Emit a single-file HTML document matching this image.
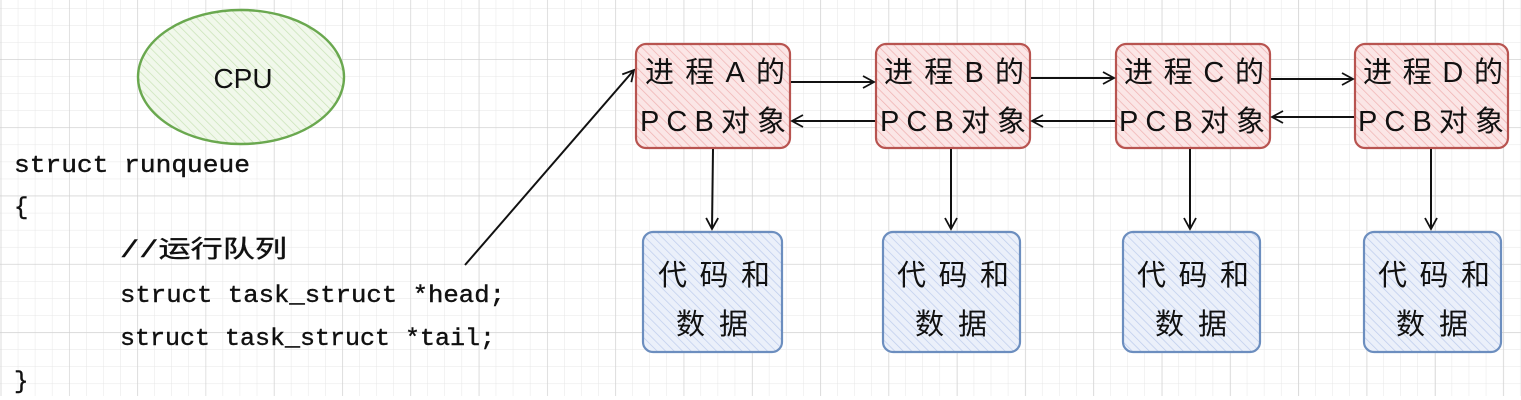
<!DOCTYPE html>
<html><head><meta charset="utf-8"><style>
html,body{margin:0;padding:0;background:#fff;}
svg{display:block;}
text{font-family:"Liberation Sans","Noto Sans CJK SC",sans-serif;fill:#111;}
.m{font-family:"Liberation Mono","Noto Sans CJK SC",monospace;}
</style></head><body>
<svg width="1521" height="400" viewBox="0 0 1521 400" xmlns="http://www.w3.org/2000/svg">
<defs>
<pattern id="mg" width="17.07" height="17.07" patternUnits="userSpaceOnUse" x="0.7" y="8">
<path d="M0 0H17.07M0 0V17.07" stroke="#e6e6e6" stroke-width="1" fill="none"/>
</pattern>
<pattern id="Mg" width="68.3" height="68.3" patternUnits="userSpaceOnUse" x="0.7" y="-9.3">
<path d="M0 0H68.3M0 0V68.3" stroke="#cfcfcf" stroke-width="1.2" fill="none"/>
</pattern>
<pattern id="hr" width="6" height="6" patternUnits="userSpaceOnUse" patternTransform="rotate(-45)">
<rect width="6" height="6" fill="#fbe6e6"/><line x1="0" y1="0" x2="0" y2="6" stroke="#efb0b0" stroke-width="1.4"/>
</pattern>
<pattern id="hb" width="6" height="6" patternUnits="userSpaceOnUse" patternTransform="rotate(-45)">
<rect width="6" height="6" fill="#ebf0fa"/><line x1="0" y1="0" x2="0" y2="6" stroke="#bccbec" stroke-width="1.4"/>
</pattern>
<pattern id="hg" width="6" height="6" patternUnits="userSpaceOnUse" patternTransform="rotate(-45)">
<rect width="6" height="6" fill="#f1f8eb"/><line x1="0" y1="0" x2="0" y2="6" stroke="#c8e2b5" stroke-width="1.4"/>
</pattern>
<marker id="ar" markerWidth="14" markerHeight="14" refX="12" refY="7" orient="auto" markerUnits="userSpaceOnUse">
<path d="M1 1L12 7L1 13" fill="none" stroke="#111" stroke-width="1.8"/>
</marker>
</defs>
<rect x="0" y="0" width="1521" height="396" fill="url(#mg)"/>
<rect x="0" y="0" width="1521" height="396" fill="url(#Mg)"/>

<ellipse cx="241" cy="77" rx="103" ry="67" fill="url(#hg)" stroke="#6aa84f" stroke-width="2.4"/>
<text x="243" y="88" font-size="28" text-anchor="middle">CPU</text>

<g fill="#111" stroke="#111" stroke-width="0.4">
<text class="m" x="14" y="172" font-size="24" textLength="236" lengthAdjust="spacingAndGlyphs">struct runqueue</text>
<text class="m" x="14" y="214" font-size="24">{</text>
<text class="m" x="120" y="257" font-size="24" textLength="167" lengthAdjust="spacingAndGlyphs">//运行队列</text>
<text class="m" x="120" y="302" font-size="24" textLength="385" lengthAdjust="spacingAndGlyphs">struct task_struct *head;</text>
<text class="m" x="120" y="345" font-size="24" textLength="375" lengthAdjust="spacingAndGlyphs">struct task_struct *tail;</text>
<text class="m" x="14" y="388" font-size="24">}</text>
</g>

<line x1="465" y1="265" x2="634" y2="70" stroke="#111" stroke-width="2" marker-end="url(#ar)"/>

<rect x="636" y="44" width="154" height="104" rx="10" fill="url(#hr)" stroke="#b85450" stroke-width="2.2"/>
<rect x="876" y="44" width="154" height="104" rx="10" fill="url(#hr)" stroke="#b85450" stroke-width="2.2"/>
<rect x="1116" y="44" width="154" height="104" rx="10" fill="url(#hr)" stroke="#b85450" stroke-width="2.2"/>
<rect x="1355" y="44" width="153" height="104" rx="10" fill="url(#hr)" stroke="#b85450" stroke-width="2.2"/>
<rect x="643" y="232" width="139" height="120" rx="10" fill="url(#hb)" stroke="#6c8ebf" stroke-width="2.2"/>
<rect x="883" y="232" width="137" height="120" rx="10" fill="url(#hb)" stroke="#6c8ebf" stroke-width="2.2"/>
<rect x="1123" y="232" width="137" height="120" rx="10" fill="url(#hb)" stroke="#6c8ebf" stroke-width="2.2"/>
<rect x="1364" y="232" width="137" height="120" rx="10" fill="url(#hb)" stroke="#6c8ebf" stroke-width="2.2"/>

<g font-size="29" lengthAdjust="spacingAndGlyphs">
<text x="645" y="82" textLength="140">进程A的</text><text x="640" y="131" textLength="146">PCB对象</text>
<text x="884" y="82" textLength="140">进程B的</text><text x="880" y="131" textLength="146">PCB对象</text>
<text x="1124" y="82" textLength="140">进程C的</text><text x="1119" y="131" textLength="146">PCB对象</text>
<text x="1363" y="82" textLength="140">进程D的</text><text x="1358" y="131" textLength="146">PCB对象</text>
<text x="658" y="285" textLength="112">代码和</text><text x="676" y="334" textLength="72">数据</text>
<text x="897" y="285" textLength="112">代码和</text><text x="915" y="334" textLength="72">数据</text>
<text x="1137" y="285" textLength="112">代码和</text><text x="1155" y="334" textLength="72">数据</text>
<text x="1378" y="285" textLength="112">代码和</text><text x="1396" y="334" textLength="72">数据</text>
</g>

<g stroke="#111" stroke-width="2" fill="none">
<line x1="791" y1="82" x2="874" y2="82" marker-end="url(#ar)"/>
<line x1="875" y1="121" x2="792" y2="121" marker-end="url(#ar)"/>
<line x1="1031" y1="78" x2="1114" y2="78" marker-end="url(#ar)"/>
<line x1="1115" y1="121" x2="1032" y2="121" marker-end="url(#ar)"/>
<line x1="1271" y1="79" x2="1353" y2="79" marker-end="url(#ar)"/>
<line x1="1354" y1="117" x2="1272" y2="117" marker-end="url(#ar)"/>
<line x1="713" y1="149" x2="712" y2="229" marker-end="url(#ar)"/>
<line x1="951" y1="149" x2="951" y2="229" marker-end="url(#ar)"/>
<line x1="1190" y1="149" x2="1190" y2="229" marker-end="url(#ar)"/>
<line x1="1431" y1="149" x2="1431" y2="229" marker-end="url(#ar)"/>
</g>
</svg>
</body></html>
